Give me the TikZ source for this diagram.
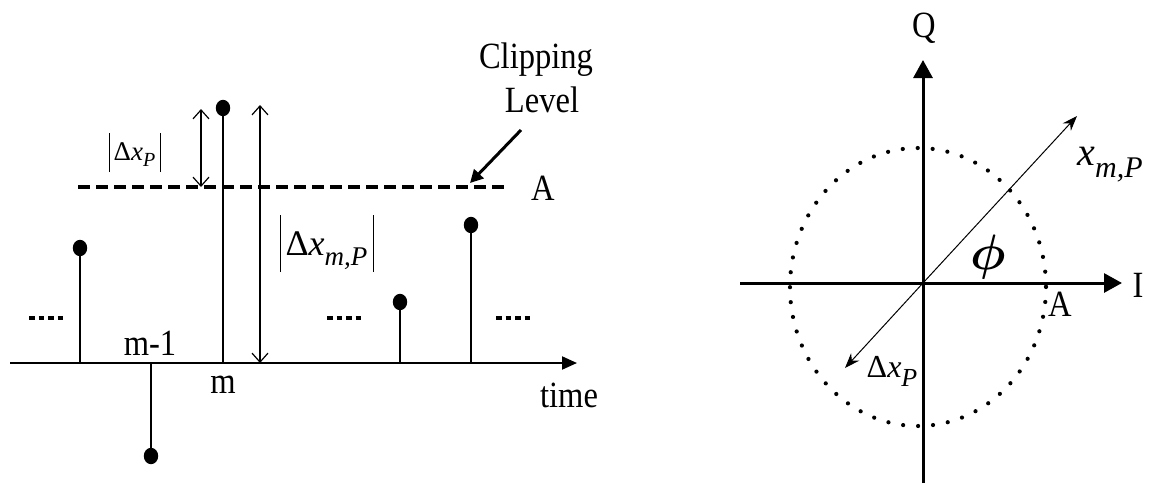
\documentclass[tikz,border=0pt]{standalone}
\usepackage{bm}
\usepackage{fontspec}
\setmainfont{Liberation Serif}
\newfontfamily\lbl{Liberation Serif}[FakeStretch=0.88]
\usetikzlibrary{arrows.meta,shapes.geometric}
\newcommand\vbar[2]{\rule[#1]{0.5pt}{#2}}
\begin{document}
\begin{tikzpicture}[x=0.5pt,y=-0.5pt,
  lab/.style={font=\lbl\fontsize{18.5}{20}\selectfont, inner sep=0pt, anchor=base},
  mlab/.style={inner sep=0pt, anchor=base},
  stem/.style={line width=0.75pt},
  dotn/.style={ellipse, fill=black, inner sep=0pt, minimum width=7.2pt, minimum height=8.2pt},
  dbl/.style={line width=0.6pt, {Straight Barb[length=4.5pt,width=8pt]}-{Straight Barb[length=4.5pt,width=8pt]}},
  axisL/.style={line width=1pt, -{Triangle[length=7.5pt,width=6.5pt]}},
  axisR/.style={line width=1.5pt, -{Triangle[length=9pt,width=9.5pt]}},
  clipline/.style={line width=2pt, dash pattern=on 6pt off 3pt},
  sepdots/.style={line width=2.4pt, dash pattern=on 2.75pt off 2pt},
  thickarrow/.style={line width=1.5pt, -{Triangle[length=6.5pt,width=6.5pt]}},
  vec/.style={line width=0.5pt, -{Stealth[length=7.5pt,width=5.5pt]}},
  dotcircle/.style={line width=2.1pt, line cap=round, dash pattern=on 0pt off 7.49pt}]
\path[use as bounding box] (0,0) rectangle (1153,483);

% ---------- left panel ----------
\coordinate (ax0) at (10,363);
\coordinate (ax1) at (577,363);
\draw[axisL] (ax0) -- (ax1);

% clipping level
\coordinate (cl0) at (78,187);
\coordinate (cl1) at (505,187);
\draw[clipline] (cl0) -- (cl1);

% stems
\coordinate (b1) at (80,363);   \node[dotn] (d1) at (80,248) {};
\coordinate (b2) at (151,363);  \node[dotn] (d2) at (151,456) {};
\coordinate (b3) at (223,363);  \node[dotn] (d3) at (223,108) {};
\coordinate (b4) at (400,363);  \node[dotn] (d4) at (400,302) {};
\coordinate (b5) at (471,363);  \node[dotn] (d5) at (471,225) {};
\draw[stem] (b1) -- (d1.center);
\draw[stem] (b2) -- (d2.center);
\draw[stem] (b3) -- (d3.center);
\draw[stem] (b4) -- (d4.center);
\draw[stem] (b5) -- (d5.center);

% separators
\coordinate (s1a) at (29,318);  \coordinate (s1b) at (63,318);
\coordinate (s2a) at (327,318); \coordinate (s2b) at (361,318);
\coordinate (s3a) at (496,318); \coordinate (s3b) at (530,318);
\draw[sepdots] (s1a) -- (s1b);
\draw[sepdots] (s2a) -- (s2b);
\draw[sepdots] (s3a) -- (s3b);

% double arrows
\coordinate (da1t) at (201,109); \coordinate (da1b) at (201,187);
\draw[dbl] (da1b) -- (da1t);
\coordinate (da2t) at (260,105); \coordinate (da2b) at (260,363);
\draw[dbl] (da2b) -- (da2t);

% labels
\node[lab] (lclip) at (536,68) {Clipping};
\node[lab] (llevel) at (542,112) {Level};
\coordinate (cls) at (521,130);
\coordinate (clt) at (470,183);
\draw[thickarrow] (cls) -- (clt);
\node[lab] (lA) at (543,200) {A};
\node[lab] (lm1) at (150,355) {m-1};
\node[lab] (lm) at (223,393) {m};
\node[lab] (ltime) at (569,407) {time};

\node[mlab] (ldxp) at (135,160) {\vbar{-6pt}{19.5pt}\hspace{2pt}{\fontsize{13.5}{14}\selectfont Δ\textit{x}\raisebox{-0.25em}{\fontsize{10}{11}\selectfont\textit{P}}}\hspace{2.5pt}\vbar{-6pt}{19.5pt}};
\node[mlab] (ldxmp) at (327,255) {\vbar{-8.5pt}{28.5pt}\hspace{2.5pt}{\fontsize{18}{20}\selectfont Δ\textit{x}\raisebox{-0.3em}{\fontsize{13.5}{14}\selectfont\textit{m,P}}}\hspace{3pt}\vbar{-8.5pt}{28.5pt}};

% ---------- right panel ----------
\coordinate (O) at (923,283);
\coordinate (Il) at (740,283);
\coordinate (Ir) at (1122,283);
\coordinate (Qb) at (923,483);
\coordinate (Qt) at (923,60);
\draw[dotcircle] (918,287) ellipse [x radius=128, y radius=139];
\draw[axisR] (Il) -- (Ir);
\draw[axisR] (Qb) -- (Qt);

\coordinate (xmp) at (1077,116);
\coordinate (dxp) at (845,368);
\draw[vec] (O) -- (xmp);
\draw[vec] (O) -- (dxp);

\node[lab] (lQ) at (924,37) {Q};
\node[lab] (lI) at (1138,297) {I};
\node[lab] (lA2) at (1060,316) {A};
\node[mlab] (lxmp) at (1110,165) {\fontsize{20}{22}\selectfont\textit{x}\raisebox{-0.3em}{\fontsize{15}{16}\selectfont\textit{m,P}}};
\node[inner sep=0pt, font=\fontsize{25}{28}\selectfont] (lphi) at (988,257) {$\bm{\phi}$};
\node[mlab] (ldxp2) at (892,377) {\fontsize{16}{18}\selectfont Δ\textit{x}\raisebox{-0.3em}{\fontsize{13}{14}\selectfont\textit{P}}};
\end{tikzpicture}
\end{document}
